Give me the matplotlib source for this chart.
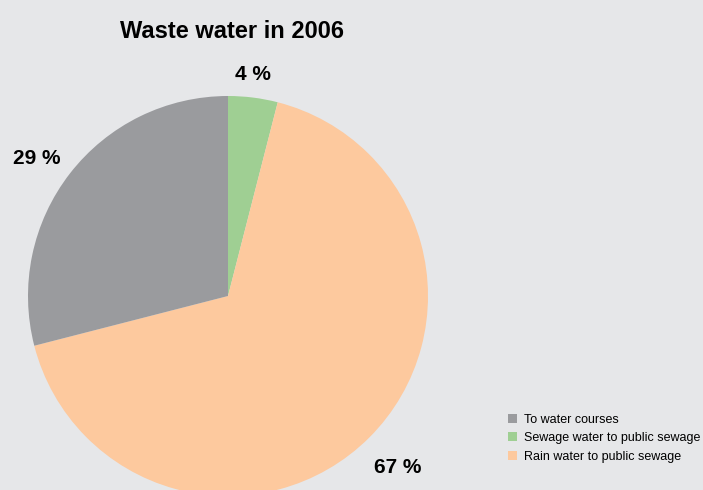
import matplotlib.pyplot as plt
from matplotlib.patches import Patch

# data, drawn clockwise from 12 o'clock
labels = ["Sewage water to public sewage", "Rain water to public sewage", "To water courses"]
values = [4, 67, 29]
pct_labels = ["4 %", "67 %", "29 %"]
colors = ["#9fcf93", "#fdc99e", "#9a9b9e"]
legend_order = [2, 0, 1]

bg = "#e6e7e9"
cond = ["Liberation Sans Narrow", "Liberation Sans", "DejaVu Sans"]

fig = plt.figure(figsize=(7.03, 4.90), dpi=100, facecolor=bg)
W, H = 703, 490
cx, cy, r = 228, 296, 200
ax = fig.add_axes([(cx - r) / W, (H - cy - r) / H, 2 * r / W, 2 * r / H])
ax.set_facecolor(bg)
wedges, _ = ax.pie(values, colors=colors, startangle=90, counterclock=False,
                   radius=1, center=(0, 0), wedgeprops=dict(linewidth=0))
ax.set_xlim(-1, 1)
ax.set_ylim(-1, 1)
ax.set_aspect("auto")
ax.axis("off")

fig.text(232 / W, 1 - 31 / H, "Waste water in 2006", ha="center", va="center",
         fontsize=17, fontweight="bold", family=cond)

label_pos = [(253, 74), (398, 467), (37, 158)]
for (x, y), t in zip(label_pos, pct_labels):
    fig.text(x / W, 1 - y / H, t, ha="center", va="center",
             fontsize=15, fontweight="bold", family=cond)

handles = [Patch(facecolor=colors[i], edgecolor="none") for i in legend_order]
fig.legend(handles, [labels[i] for i in legend_order], loc="upper left",
           bbox_to_anchor=(498 / W, 1 - 404 / H), frameon=False,
           handlelength=0.75, handleheight=0.75, handletextpad=0.5,
           labelspacing=0.5, borderpad=0.3,
           prop=dict(family=cond, size=9.0))

fig.savefig("out.png", dpi=100, facecolor=bg)
